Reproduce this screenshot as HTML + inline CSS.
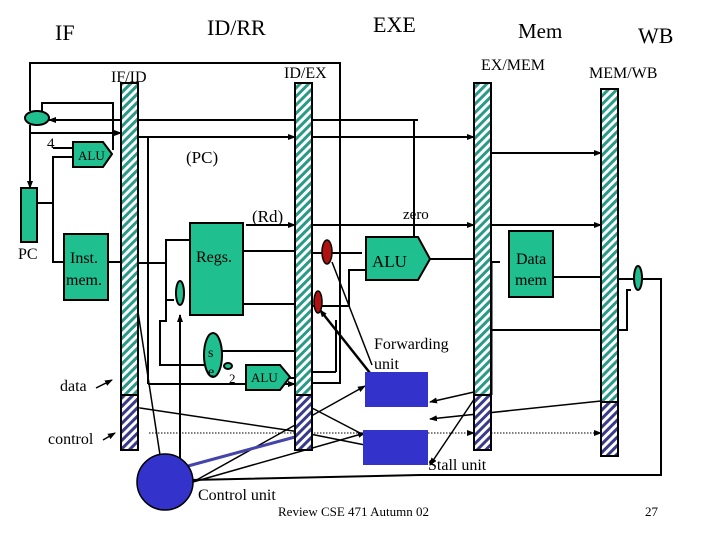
<!DOCTYPE html>
<html><head><meta charset="utf-8"><style>
html,body{margin:0;padding:0;background:#fff;}
svg{display:block;}
text{font-family:"Liberation Serif",serif;fill:#000;}
</style></head><body>
<svg width="720" height="540" viewBox="0 0 720 540" xmlns="http://www.w3.org/2000/svg">
<defs>
<pattern id="hg" patternUnits="userSpaceOnUse" width="6" height="6" patternTransform="rotate(45)">
<rect width="6" height="6" fill="#fff"/><rect width="3" height="6" fill="#2a9a88"/></pattern>
<pattern id="hb" patternUnits="userSpaceOnUse" width="6" height="6" patternTransform="rotate(45)">
<rect width="6" height="6" fill="#fff"/><rect width="3" height="6" fill="#3a3a8a"/></pattern>
<marker id="a" markerWidth="8" markerHeight="8" refX="7" refY="4" orient="auto" markerUnits="userSpaceOnUse"><path d="M0,1 L8,4 L0,7z" fill="#000"/></marker>
</defs>
<g stroke="#000" stroke-width="2" fill="none">
<polyline points="30,111 30,63 340,63 340,383 312,383"/>
<line x1="30" y1="125" x2="30" y2="188" marker-end="url(#a)"/>
<polyline points="42,112 42,103 113,103 113,150"/>
<line x1="418" y1="120" x2="49" y2="120" marker-end="url(#a)"/>
<polyline points="418,120 414,120 414,250"/>
<line x1="30" y1="133" x2="121" y2="133" marker-end="url(#a)"/>
<line x1="138" y1="137" x2="295" y2="137" marker-end="url(#a)"/>
<line x1="312" y1="137" x2="474" y2="137" marker-end="url(#a)"/>
<line x1="491" y1="153" x2="601" y2="153" marker-end="url(#a)"/>
<polyline points="53,148 73,148"/>
<polyline points="73,157 53,157 53,262 64,262"/>
<line x1="37" y1="203" x2="53" y2="203"/>
<line x1="148" y1="137" x2="148" y2="384"/>
<line x1="148" y1="384" x2="295" y2="384" marker-end="url(#a)"/>
<line x1="108" y1="262" x2="121" y2="262"/>
<polyline points="138,263 166,263 166,240 190,240"/>
<polyline points="166,263 166,300 174,300"/>
<polyline points="166,263 166,321 160,321 160,365 205,365"/>
<line x1="246" y1="225" x2="295" y2="225" marker-end="url(#a)"/>
<line x1="312" y1="225" x2="474" y2="225" marker-end="url(#a)"/>
<line x1="491" y1="225" x2="601" y2="225" marker-end="url(#a)"/>
<line x1="243" y1="251" x2="295" y2="251"/>
<line x1="243" y1="304" x2="295" y2="304"/>
<line x1="222" y1="351" x2="295" y2="351"/>
<line x1="312" y1="253" x2="362" y2="253"/>
<polyline points="312,306 349,306 349,270 366,270"/>
<line x1="430" y1="259" x2="474" y2="259"/>
<polyline points="491,262 500,262"/>
<line x1="491" y1="262" x2="491" y2="395" stroke-width="3"/>
<line x1="553" y1="277" x2="601" y2="277"/>
<polyline points="618,279 661,279 661,475 420,475 190,480"/>
<polyline points="631,290 627,290 627,330 491,330"/>
<line x1="180" y1="480" x2="180" y2="315" marker-end="url(#a)"/>
<line x1="290" y1="378" x2="295" y2="378"/>
<line x1="246" y1="378" x2="250" y2="378"/>
<line x1="312" y1="372" x2="336" y2="372"/>
<polyline points="336,372 336,320"/>
<line x1="138" y1="312" x2="160" y2="455" stroke-width="1.5"/>
<line x1="193" y1="482" x2="365" y2="433" stroke-width="1.5" marker-end="url(#a)"/>
<line x1="193" y1="482" x2="365" y2="386" stroke-width="1.5" marker-end="url(#a)"/>
<line x1="140" y1="408" x2="300" y2="432" stroke-width="1.5" marker-start="url(#a)"/>
<line x1="300" y1="432" x2="365" y2="445" stroke-width="1.5"/>
<line x1="312" y1="408" x2="385" y2="446" stroke-width="1.5" marker-start="url(#a)"/>
<line x1="370" y1="373" x2="320" y2="310" stroke-width="2.5" marker-end="url(#a)"/>
<line x1="372" y1="365" x2="332" y2="262" stroke-width="1.5"/>
<line x1="474" y1="392" x2="430" y2="402" stroke-width="1.5" marker-end="url(#a)"/>
<line x1="601" y1="401" x2="430" y2="419" stroke-width="1.5" marker-end="url(#a)"/>
<line x1="479" y1="392" x2="430" y2="465" stroke-width="1.5" marker-end="url(#a)"/>
<line x1="149" y1="433" x2="474" y2="433" stroke-width="1" stroke-dasharray="1.5,1.5" marker-end="url(#a)"/>
<line x1="491" y1="433" x2="601" y2="433" stroke-width="1" stroke-dasharray="1.5,1.5" marker-end="url(#a)"/>
<line x1="188" y1="466" x2="295" y2="437" stroke="#4444aa" stroke-width="3"/>
<line x1="96" y1="388" x2="112" y2="380" stroke-width="1.5" marker-end="url(#a)"/>
<line x1="103" y1="440" x2="115" y2="433" stroke-width="1.5" marker-end="url(#a)"/>
</g>
<g stroke="#000" stroke-width="2">
<rect x="121" y="83" width="17" height="312" fill="url(#hg)"/>
<rect x="121" y="395" width="17" height="55" fill="url(#hb)"/>
<rect x="295" y="83" width="17" height="312" fill="url(#hg)"/>
<rect x="295" y="395" width="17" height="55" fill="url(#hb)"/>
<rect x="474" y="83" width="17" height="312" fill="url(#hg)"/>
<rect x="474" y="395" width="17" height="55" fill="url(#hb)"/>
<rect x="601" y="89" width="17" height="313" fill="url(#hg)"/>
<rect x="601" y="402" width="17" height="54" fill="url(#hb)"/>
</g>
<g stroke="#000" stroke-width="2" fill="#1fbf8f">
<ellipse cx="37" cy="118" rx="12" ry="7"/>
<rect x="21" y="188" width="16" height="54"/>
<polygon points="73,142 103,142 112,154 103,167 73,167"/>
<rect x="64" y="234" width="44" height="66"/>
<rect x="190" y="223" width="53" height="92"/>
<ellipse cx="180" cy="293" rx="4" ry="12"/>
<ellipse cx="213" cy="355" rx="9" ry="22"/>
<ellipse cx="228" cy="366" rx="4" ry="3"/>
<polygon points="246,365 280,365 290,377 280,390 246,390"/>
<polygon points="366,237 418,237 430,259 418,280 366,280"/>
<rect x="509" y="231" width="44" height="66"/>
<ellipse cx="638" cy="278" rx="4" ry="12"/>
</g>
<g stroke="#000" stroke-width="1.5" fill="#b01010">
<ellipse cx="327" cy="252" rx="5" ry="12"/>
<ellipse cx="318" cy="302" rx="4" ry="11"/>
</g>
<g fill="#3333cc">
<rect x="365" y="372" width="63" height="35"/>
<rect x="363" y="430" width="65" height="35"/>
<circle cx="165" cy="482" r="28" stroke="#000" stroke-width="1.5"/>
</g>
<text x="55" y="40" font-size="22">IF</text>
<text x="207" y="35" font-size="22">ID/RR</text>
<text x="373" y="32" font-size="22">EXE</text>
<text x="518" y="38" font-size="21">Mem</text>
<text x="638" y="43" font-size="22">WB</text>
<text x="111" y="82" font-size="16">IF/ID</text>
<text x="284" y="78" font-size="16">ID/EX</text>
<text x="481" y="70" font-size="16">EX/MEM</text>
<text x="589" y="78" font-size="16">MEM/WB</text>
<text x="47" y="148" font-size="15">4</text>
<text x="78" y="160" font-size="13">ALU</text>
<text x="186" y="163" font-size="17">(PC)</text>
<text x="252" y="222" font-size="17">(Rd)</text>
<text x="403" y="219" font-size="15">zero</text>
<text x="18" y="259" font-size="16">PC</text>
<text x="70" y="263" font-size="16">Inst.</text>
<text x="66" y="285" font-size="16">mem.</text>
<text x="196" y="262" font-size="16">Regs.</text>
<text x="372" y="267" font-size="17">ALU</text>
<text x="516" y="264" font-size="16">Data</text>
<text x="515" y="285" font-size="16">mem</text>
<text x="208" y="357" font-size="14">s</text>
<text x="208" y="376" font-size="14">e</text>
<text x="229" y="383" font-size="13">2</text>
<text x="251" y="382" font-size="13">ALU</text>
<text x="374" y="349" font-size="16">Forwarding</text>
<text x="374" y="369" font-size="16">unit</text>
<text x="60" y="391" font-size="16">data</text>
<text x="48" y="444" font-size="16">control</text>
<text x="428" y="470" font-size="16">Stall unit</text>
<text x="198" y="500" font-size="16">Control unit</text>
<text x="278" y="516" font-size="13">Review CSE 471 Autumn 02</text>
<text x="645" y="516" font-size="13">27</text>
</svg>
</body></html>
